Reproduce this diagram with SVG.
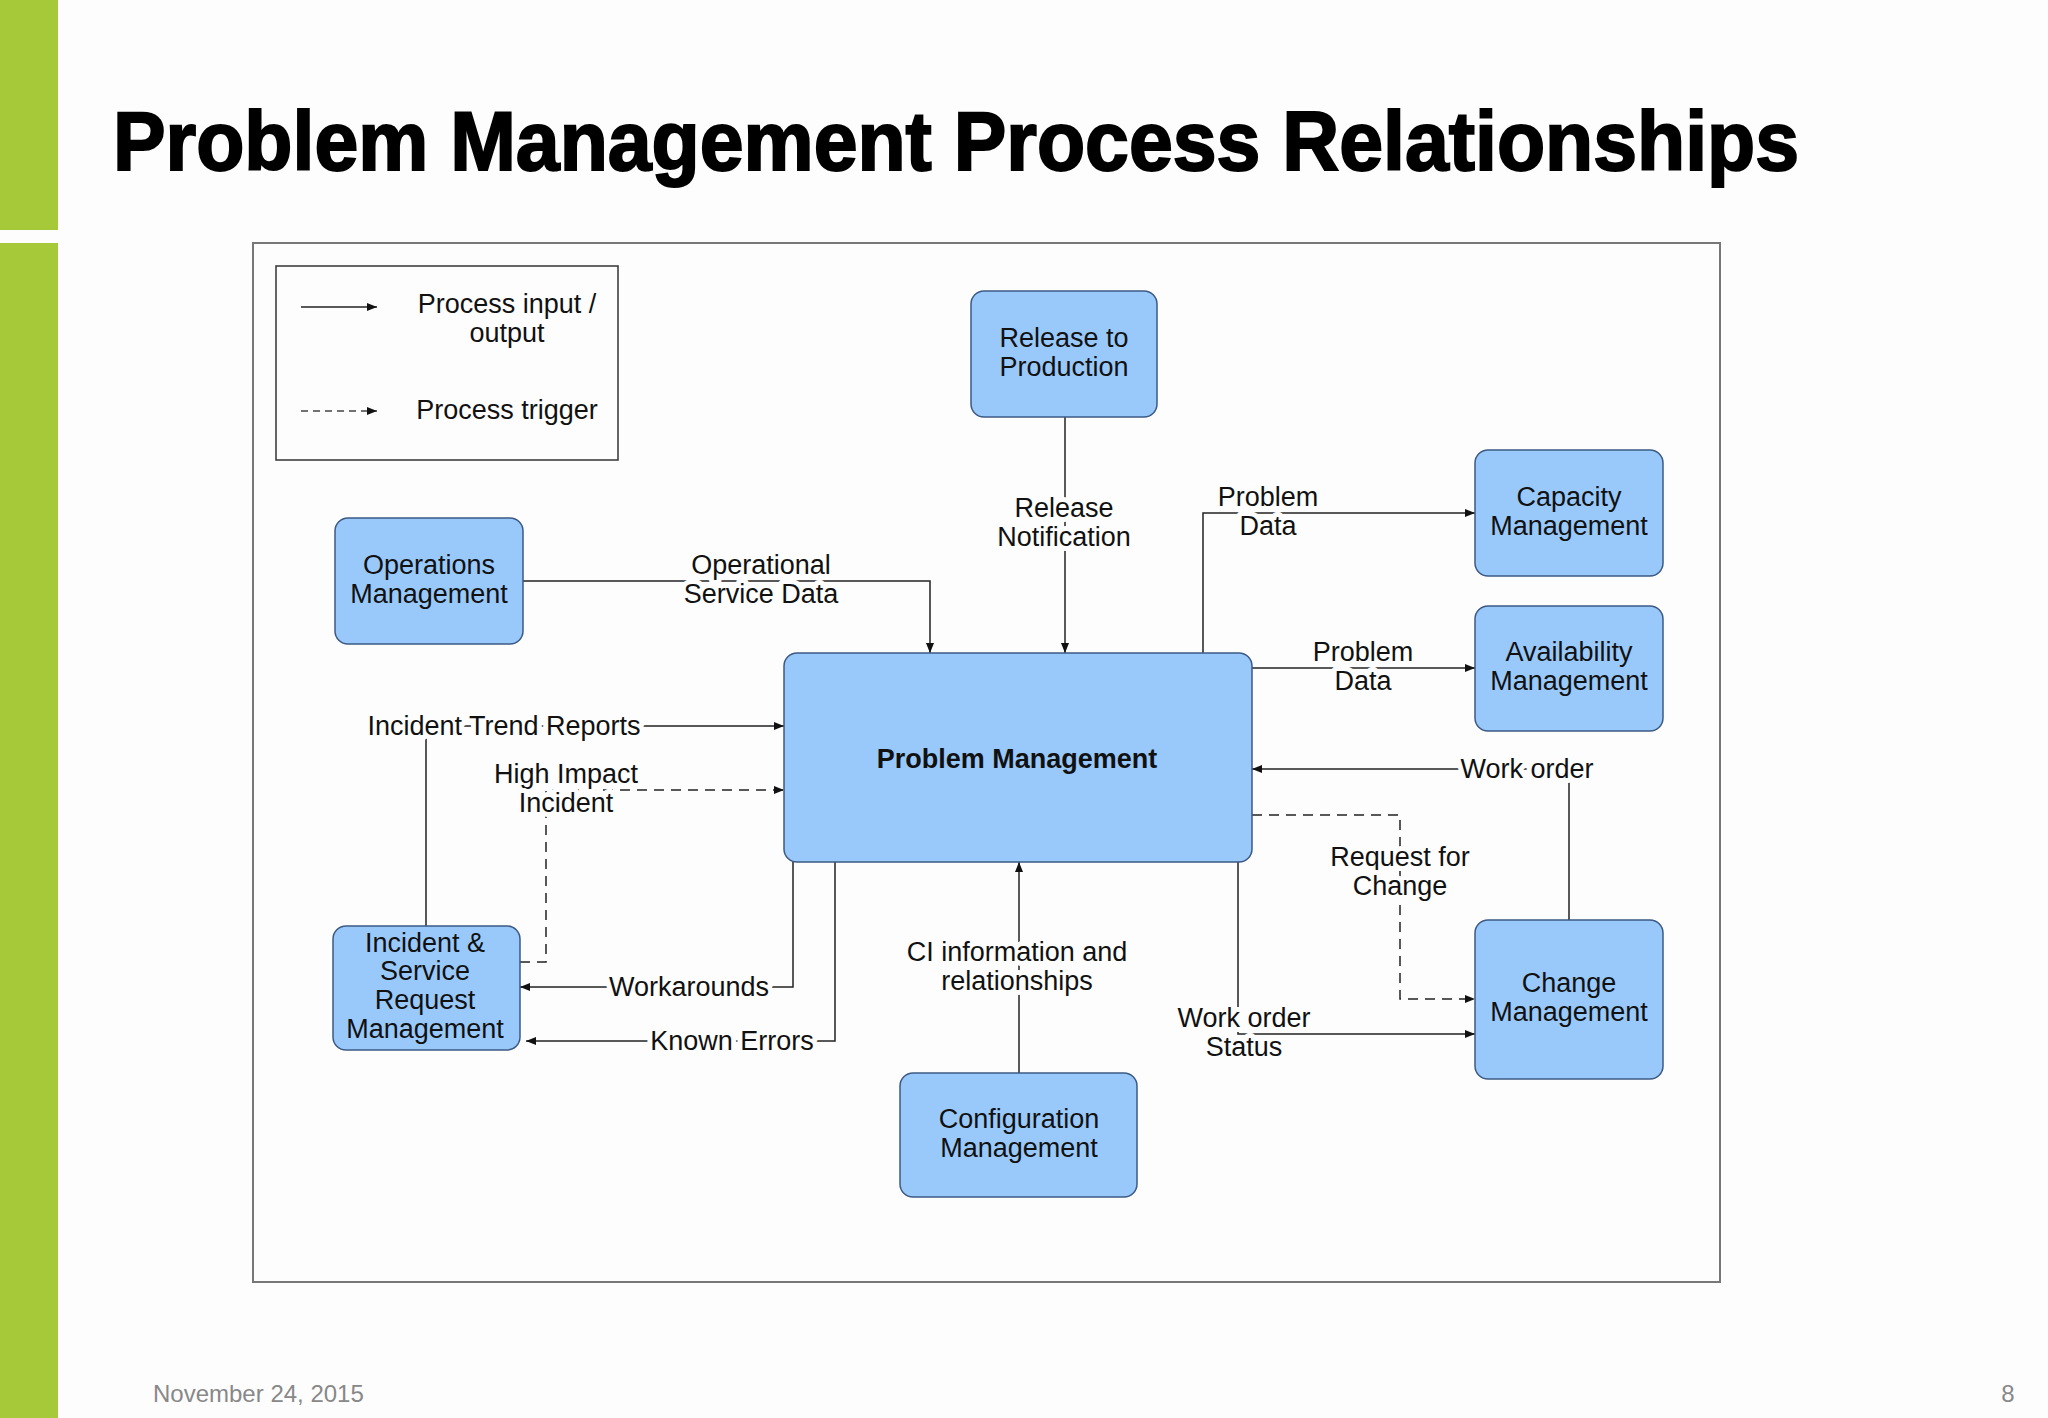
<svg xmlns="http://www.w3.org/2000/svg" width="2048" height="1418" viewBox="0 0 2048 1418">
<style>
.n rect{fill:#99c9fb;stroke:#3c5a85;stroke-width:1.5}
.t{font-family:"Liberation Sans Narrow","Liberation Sans",Arial,sans-serif;font-size:27px;fill:#111;text-anchor:middle}
.lb{font-family:"Liberation Sans Narrow","Liberation Sans",Arial,sans-serif;font-size:27px;fill:#111;text-anchor:middle;stroke:#fdfdfd;stroke-width:10;paint-order:stroke;stroke-linejoin:round}
.c path{fill:none;stroke:#222;stroke-width:1.5}
.d{stroke-dasharray:10 7}
</style>
<defs>
<marker id="a" viewBox="0 0 10 10" refX="10" refY="5" markerWidth="10" markerHeight="10" markerUnits="userSpaceOnUse" orient="auto"><path d="M0,1 L10,5 L0,9 z" fill="#111"/></marker>
</defs>
<rect width="2048" height="1418" fill="#fdfdfd"/>
<rect x="0" y="0" width="58" height="230" fill="#a6c93a"/>
<rect x="0" y="243" width="58" height="1175" fill="#a6c93a"/>
<text x="113" y="170" font-family="Liberation Sans,Arial,sans-serif" font-weight="bold" font-size="84" textLength="1686" lengthAdjust="spacingAndGlyphs" fill="#000" stroke="#000" stroke-width="2">Problem Management Process Relationships</text>
<rect x="253" y="243" width="1467" height="1039" fill="none" stroke="#777" stroke-width="2"/>
<g id="legend">
<rect x="276" y="266" width="342" height="194" fill="none" stroke="#333" stroke-width="1.5"/>
<path d="M301,307 H377" stroke="#222" stroke-width="1.5" marker-end="url(#a)"/>
<path d="M301,411 H377" stroke="#444" stroke-width="1.5" stroke-dasharray="7 5" marker-end="url(#a)"/>
<text class="t" x="507" y="313">Process input /</text>
<text class="t" x="507" y="342">output</text>
<text class="t" x="507" y="419">Process trigger</text>
</g>
<g class="c" id="connectors">
<path d="M1065,417 V653" marker-end="url(#a)"/>
<path d="M523,581 H930 V653" marker-end="url(#a)"/>
<path d="M1203,653 V513 H1475" marker-end="url(#a)"/>
<path d="M1252,668 H1475" marker-end="url(#a)"/>
<path d="M1569,920 V769 H1252" marker-end="url(#a)"/>
<path class="d" d="M1252,815 H1400 V999 H1475" marker-end="url(#a)"/>
<path d="M1238,862 V1034 H1475" marker-end="url(#a)"/>
<path d="M1019,1073 V862" marker-end="url(#a)"/>
<path d="M426,926 V726 H784" marker-end="url(#a)"/>
<path class="d" d="M520,962 H546 V790 H784" marker-end="url(#a)"/>
<path d="M793,862 V987 H520" marker-end="url(#a)"/>
<path d="M835,862 V1041 H526" marker-end="url(#a)"/>
</g>
<g id="labels">
<text class="lb" x="1064" y="517">Release</text><text class="lb" x="1064" y="546">Notification</text>
<text class="lb" x="761" y="574">Operational</text><text class="lb" x="761" y="603">Service Data</text>
<text class="lb" x="1268" y="506">Problem</text><text class="lb" x="1268" y="535">Data</text>
<text class="lb" x="1363" y="661">Problem</text><text class="lb" x="1363" y="690">Data</text>
<text class="lb" x="1527" y="778">Work order</text>
<text class="lb" x="1400" y="866">Request for</text><text class="lb" x="1400" y="895">Change</text>
<text class="lb" x="1244" y="1027">Work order</text><text class="lb" x="1244" y="1056">Status</text>
<text class="lb" x="1017" y="961">CI information and</text><text class="lb" x="1017" y="990">relationships</text>
<text class="lb" x="504" y="735">Incident Trend Reports</text>
<text class="lb" x="566" y="783">High Impact</text><text class="lb" x="566" y="812">Incident</text>
<text class="lb" x="689" y="996">Workarounds</text>
<text class="lb" x="732" y="1050">Known Errors</text>
</g>
<g id="release" class="n"><rect x="971" y="291" width="186" height="126" rx="13"/><text class="t" x="1064" y="347">Release to</text><text class="t" x="1064" y="376">Production</text></g>
<g id="operations" class="n"><rect x="335" y="518" width="188" height="126" rx="13"/><text class="t" x="429" y="574">Operations</text><text class="t" x="429" y="603">Management</text></g>
<g id="problem" class="n"><rect x="784" y="653" width="468" height="209" rx="13"/><text class="t" x="1017" y="768" font-weight="bold" font-size="31">Problem Management</text></g>
<g id="capacity" class="n"><rect x="1475" y="450" width="188" height="126" rx="13"/><text class="t" x="1569" y="506">Capacity</text><text class="t" x="1569" y="535">Management</text></g>
<g id="availability" class="n"><rect x="1475" y="606" width="188" height="125" rx="13"/><text class="t" x="1569" y="661">Availability</text><text class="t" x="1569" y="690">Management</text></g>
<g id="change" class="n"><rect x="1475" y="920" width="188" height="159" rx="13"/><text class="t" x="1569" y="992">Change</text><text class="t" x="1569" y="1021">Management</text></g>
<g id="incident" class="n"><rect x="333" y="926" width="187" height="124" rx="13"/><text class="t" x="425" y="952">Incident &amp;</text><text class="t" x="425" y="980">Service</text><text class="t" x="425" y="1009">Request</text><text class="t" x="425" y="1038">Management</text></g>
<g id="configuration" class="n"><rect x="900" y="1073" width="237" height="124" rx="13"/><text class="t" x="1019" y="1128">Configuration</text><text class="t" x="1019" y="1157">Management</text></g>
<text x="153" y="1402" font-family="Liberation Sans,Arial,sans-serif" font-size="24" fill="#888">November 24, 2015</text>
<text x="2008" y="1402" font-family="Liberation Sans,Arial,sans-serif" font-size="24" fill="#888" text-anchor="middle">8</text>
</svg>
